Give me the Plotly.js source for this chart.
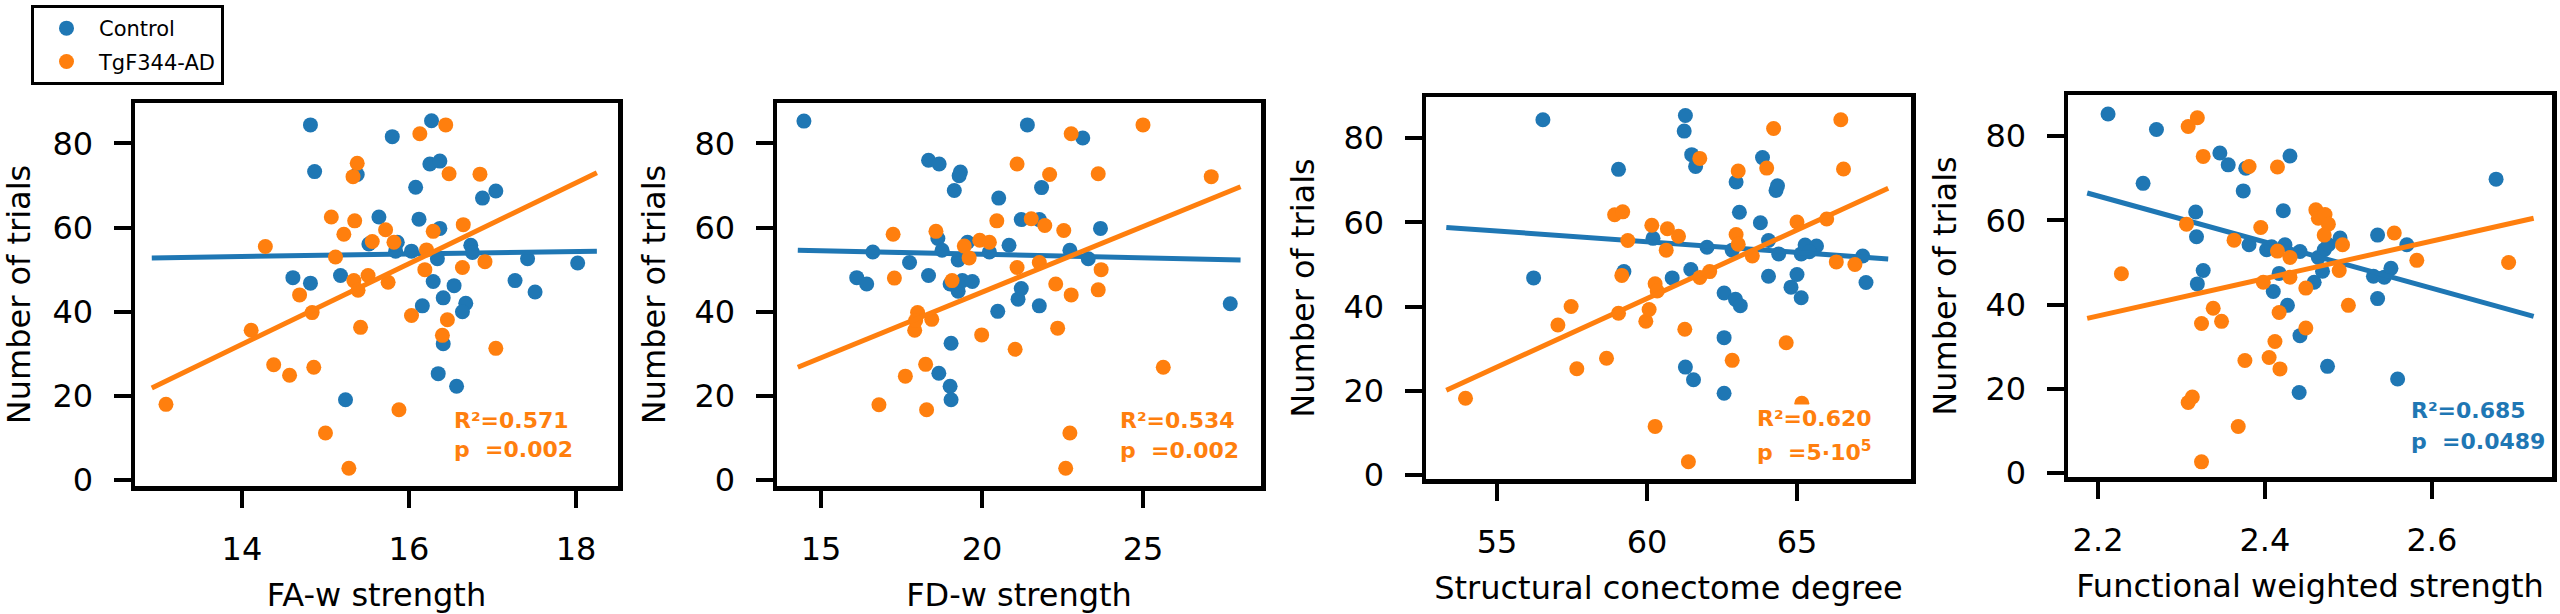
<!DOCTYPE html>
<html>
<head>
<meta charset="utf-8">
<script src="https://cdn.plot.ly/plotly-3.0.1.min.js"></script>
<style>
  html, body { margin: 0; padding: 0; background: #ffffff; }
  #chart { width: 2560px; height: 614px; }
</style>
</head>
<body>
<div id="chart"></div>
<script>
// ---------- DATA ----------
const groupNames = ["Control", "TgF344-AD"];

// Panel 1: FA-w strength
const p1CtrlX = [14.82,14.87,15.80,16.27,16.25,16.37,16.08,16.88,17.04,15.64,16.12,16.37,15.52,15.86,15.84,16.03,16.34,16.74,16.76,14.61,14.82,15.18,16.29,16.54,16.41,16.16,16.68,16.64,16.41,16.35,16.57,15.24,17.27,17.51,17.42,18.02,15.38];
const p1CtrlY = [84.4,73.3,81.6,85.4,75.1,75.8,69.6,67.0,68.7,62.5,62.0,59.8,56.1,56.5,54.4,54.4,52.6,55.8,54.1,48.1,46.8,48.6,47.2,46.2,43.3,41.4,42.0,40.0,32.4,25.3,22.3,19.1,47.4,44.7,52.6,51.6,72.6];
const p1TgX = [13.09,14.11,14.28,14.38,14.57,14.69,14.84,14.86,15.00,15.07,15.22,15.12,15.28,15.35,15.38,15.33,15.34,15.39,15.42,15.51,15.56,15.72,15.75,15.82,15.88,16.03,16.13,16.19,16.21,16.29,16.44,16.48,16.40,16.46,16.64,16.65,16.85,16.91,17.04];
const p1TgY = [18.0,35.6,55.5,27.4,24.9,44.0,39.8,26.8,11.2,62.5,58.4,53.0,2.8,61.6,75.3,72.1,47.4,45.1,36.3,48.6,56.7,59.5,47.0,56.5,16.7,39.1,82.3,50.0,54.7,59.1,84.4,72.8,34.4,38.1,50.5,60.7,72.7,51.9,31.3];
const p1FitX = [12.92, 18.25];
const p1FitCtrlY = [52.8, 54.4];
const p1FitTgY = [21.9, 73.0];

// Panel 2: FD-w strength
const p2CtrlX = [14.47,16.11,16.42,16.61,17.75,18.34,18.67,18.34,18.63,18.76,18.66,19.01,19.04,19.04,19.14,19.29,19.33,19.01,19.26,19.39,19.70,19.55,19.26,20.23,20.49,20.52,20.84,21.12,21.22,21.22,21.41,21.78,21.85,21.78,22.73,23.13,23.30,23.68,27.71];
const p2CtrlY = [85.3,48.1,46.6,54.2,51.7,76.0,75.1,48.6,57.4,54.6,25.4,22.3,19.1,32.5,68.8,72.3,73.2,46.6,44.9,47.4,47.2,56.5,52.3,54.2,40.1,67.0,55.8,43.0,45.5,61.9,84.4,61.9,69.5,41.4,54.6,81.3,52.6,59.8,41.9];
const p2TgX = [16.80,17.24,17.28,17.62,17.91,18.00,17.94,18.25,18.28,18.44,18.57,19.07,19.45,19.60,19.93,19.99,20.23,20.46,21.03,21.09,21.09,21.53,21.78,21.95,22.10,22.29,22.35,22.54,22.60,22.73,22.77,22.77,23.61,23.61,23.70,25.00,25.63,27.12];
const p2TgY = [17.9,58.4,48.0,24.7,35.6,39.8,37.9,27.5,16.7,38.2,59.1,47.4,55.6,52.8,57.0,34.5,56.5,61.6,31.1,75.1,50.5,62.1,51.7,60.5,72.6,46.6,36.1,59.3,2.8,11.2,44.0,82.3,72.8,45.2,50.0,84.4,26.8,72.1];
const p2FitX = [14.28, 28.03];
const p2FitCtrlY = [54.6, 52.3];
const p2FitTgY = [26.8, 69.7];

// Panel 3: Structural conectome degree
const p3CtrlX = [56.53,56.22,59.05,59.23,60.20,60.84,61.28,61.24,61.49,61.62,61.46,61.28,61.55,62.00,62.57,62.57,62.57,62.84,62.97,63.08,62.95,63.11,63.85,63.78,64.05,64.05,64.30,64.35,64.39,64.80,65.00,65.14,65.14,65.27,65.65,67.19,67.30,65.41];
const p3CtrlY = [84.4,46.8,72.6,48.3,56.2,46.8,85.4,81.7,76.1,73.3,48.8,25.6,22.6,54.1,43.2,32.6,19.4,53.4,69.6,62.4,41.7,40.2,75.4,59.9,55.7,47.2,67.6,68.7,52.5,44.6,47.6,42.1,52.5,54.6,54.4,52.0,45.7,53.0];
const p3TgX = [53.95,57.03,57.47,57.66,58.65,58.92,59.19,59.05,59.16,59.36,59.96,60.07,60.16,60.27,60.27,60.34,60.68,60.64,61.05,61.26,61.38,61.76,61.76,62.09,62.84,62.97,63.04,63.04,63.51,63.99,64.22,64.64,65.00,65.16,65.99,66.31,66.46,66.55,66.93];
const p3TgY = [18.2,35.6,40.0,25.2,27.7,61.8,62.5,38.4,47.4,55.7,36.5,39.3,59.3,45.4,11.5,43.7,58.5,53.4,56.7,34.6,3.1,75.2,46.9,48.3,27.2,57.1,72.2,54.8,52.0,72.9,82.3,31.4,60.1,17.0,60.8,50.6,84.4,72.7,50.0];
const p3FitX = [53.31, 68.04];
const p3FitCtrlY = [58.8, 51.3];
const p3FitTgY = [20.1, 68.1];

// Panel 4: Functional weighted strength
const p4CtrlX = [2.212,2.270,2.254,2.317,2.318,2.326,2.319,2.346,2.356,2.377,2.374,2.381,2.402,2.408,2.410,2.417,2.422,2.424,2.427,2.430,2.442,2.442,2.441,2.459,2.464,2.469,2.471,2.476,2.490,2.475,2.535,2.535,2.530,2.543,2.551,2.559,2.570,2.677];
const p4CtrlY = [85.3,81.6,68.8,62.0,56.1,48.1,44.9,76.0,73.2,72.4,67.0,54.2,53.0,53.7,43.1,47.4,62.3,54.2,39.8,75.3,52.6,32.6,19.1,45.3,51.2,47.9,53.0,54.2,55.8,25.3,56.5,41.4,46.7,46.5,48.6,22.3,54.2,69.8];
const p4TgX = [2.228,2.306,2.308,2.319,2.326,2.308,2.313,2.324,2.338,2.348,2.363,2.368,2.376,2.381,2.324,2.395,2.398,2.405,2.412,2.415,2.415,2.417,2.418,2.430,2.430,2.449,2.449,2.461,2.464,2.472,2.476,2.471,2.489,2.493,2.500,2.555,2.582,2.692];
const p4TgY = [47.3,59.1,82.3,84.4,75.2,16.7,18.0,35.5,39.1,36.0,55.3,11.0,26.7,72.8,2.6,58.3,45.3,27.4,31.2,72.7,52.7,38.1,24.7,51.2,46.5,43.9,34.4,62.5,60.5,61.4,59.1,56.5,48.1,54.2,39.8,57.0,50.5,50.0];
const p4FitX = [2.187, 2.722];
const p4FitCtrlY = [66.5, 37.2];
const p4FitTgY = [36.7, 60.5];

// Tick values and labels
const yTickVals = [0, 20, 40, 60, 80];
const yTickText = ["0", "20", "40", "60", "80"];
const p1XTickVals = [14, 16, 18];
const p2XTickVals = [15, 20, 25];
const p3XTickVals = [55, 60, 65];
const p4XTickVals = [2.2, 2.4, 2.6];
const p4XTickText = ["2.2", "2.4", "2.6"];

// Axis titles and statistics labels
const xTitles = ["FA-w strength", "FD-w strength", "Structural conectome degree", "Functional weighted strength"];
const yTitle = "Number of trials";
const statR = ["R²=0.571", "R²=0.534", "R²=0.620", "R²=0.685"];
const statP = ["p\u00a0\u00a0=0.002", "p\u00a0\u00a0=0.002", "p\u00a0\u00a0=5·10<sup>5</sup>", "p\u00a0\u00a0=0.0489"];
const statGroup = [1, 1, 1, 0];

// ---------- STYLE ----------
const W = 2560, H = 614;
const colors = ["#1f77b4", "#ff7f0e"];
const FONT = "DejaVu Sans";

// panel frames in pixels: [left, right, top, bottom]
const frames = [
  [135, 618, 103, 486],
  [777, 1261, 103, 486],
  [1426, 1911, 97, 479],
  [2068, 2552, 95, 477]
];
const xRanges = [[12.719, 18.503], [13.634, 28.665], [52.633, 68.8], [2.164, 2.744]];
const yRanges = [[-1.4, 89.6], [-1.4, 89.6], [-1.0, 89.8], [-1.0, 89.8]];
const statPos = [[452, 420, 449], [1118, 420, 450], [1755, 418, 451], [2409, 410, 441]];
const statBg = ["rgba(0,0,0,0)", "rgba(0,0,0,0)", "#ffffff", "rgba(0,0,0,0)"];

const panels = [
  {cx: p1CtrlX, cy: p1CtrlY, tx: p1TgX, ty: p1TgY, fx: p1FitX, fc: p1FitCtrlY, ft: p1FitTgY, tv: p1XTickVals, tt: p1XTickVals.map(String)},
  {cx: p2CtrlX, cy: p2CtrlY, tx: p2TgX, ty: p2TgY, fx: p2FitX, fc: p2FitCtrlY, ft: p2FitTgY, tv: p2XTickVals, tt: p2XTickVals.map(String)},
  {cx: p3CtrlX, cy: p3CtrlY, tx: p3TgX, ty: p3TgY, fx: p3FitX, fc: p3FitCtrlY, ft: p3FitTgY, tv: p3XTickVals, tt: p3XTickVals.map(String)},
  {cx: p4CtrlX, cy: p4CtrlY, tx: p4TgX, ty: p4TgY, fx: p4FitX, fc: p4FitCtrlY, ft: p4FitTgY, tv: p4XTickVals, tt: p4XTickText}
];

const traces = [];
const layout = {
  width: W, height: H,
  margin: {l: 0, r: 0, t: 0, b: 0, pad: 0},
  paper_bgcolor: "#ffffff",
  plot_bgcolor: "#ffffff",
  font: {family: FONT, color: "#000000", size: 32},
  showlegend: true,
  legend: {
    x: 31 / W, y: 1 - 5 / H, xanchor: "left", yanchor: "top",
    bordercolor: "#000000", borderwidth: 3, bgcolor: "#ffffff",
    font: {family: FONT, size: 21, color: "#000000"},
    itemsizing: "trace", itemwidth: 55, tracegroupgap: 3
  },
  annotations: []
};

panels.forEach((p, i) => {
  const n = i + 1;
  const xa = n === 1 ? "x" : "x" + n;
  const ya = n === 1 ? "y" : "y" + n;
  const f = frames[i];
  const axBase = {
    showline: true, mirror: true, linecolor: "#000000", linewidth: 4.5,
    showgrid: false, zeroline: false,
    ticks: "outside", ticklen: 17, tickwidth: 4, tickcolor: "#000000",
    tickfont: {family: FONT, size: 32, color: "#000000"},
    ticklabelstandoff: 14
  };
  layout["xaxis" + (n === 1 ? "" : n)] = Object.assign({}, axBase, {
    domain: [f[0] / W, f[1] / W],
    range: xRanges[i], anchor: ya,
    tickmode: "array", tickvals: p.tv, ticktext: p.tt,
    title: {text: xTitles[i], font: {family: FONT, size: 32, color: "#000000"}, standoff: 18}
  });
  layout["yaxis" + (n === 1 ? "" : n)] = Object.assign({}, axBase, {
    domain: [1 - f[3] / H, 1 - f[2] / H],
    range: yRanges[i], anchor: xa,
    tickmode: "array", tickvals: yTickVals, ticktext: yTickText,
    title: {text: yTitle, font: {family: FONT, size: 32, color: "#000000"}, standoff: 20}
  });

  // Control scatter + fit, then TgF scatter + fit
  traces.push({
    type: "scatter", mode: "markers", x: p.cx, y: p.cy, xaxis: xa, yaxis: ya,
    name: groupNames[0], legendgroup: "ctrl", showlegend: i === 0,
    marker: {color: colors[0], size: 15, line: {width: 0}}
  });
  traces.push({
    type: "scatter", mode: "lines", x: p.fx, y: p.fc, xaxis: xa, yaxis: ya,
    showlegend: false, hoverinfo: "skip",
    line: {color: colors[0], width: 5}
  });
  traces.push({
    type: "scatter", mode: "markers", x: p.tx, y: p.ty, xaxis: xa, yaxis: ya,
    name: groupNames[1], legendgroup: "tg", showlegend: i === 0,
    marker: {color: colors[1], size: 15, line: {width: 0}}
  });
  traces.push({
    type: "scatter", mode: "lines", x: p.fx, y: p.ft, xaxis: xa, yaxis: ya,
    showlegend: false, hoverinfo: "skip",
    line: {color: colors[1], width: 5}
  });

  const sp = statPos[i];
  const sc = colors[statGroup[i]];
  layout.annotations.push({
    xref: "paper", yref: "paper", x: sp[0] / W, y: 1 - sp[1] / H,
    xanchor: "left", yanchor: "middle", showarrow: false,
    text: statR[i], font: {family: FONT, size: 22, color: sc, weight: "bold"},
    bgcolor: statBg[i], borderpad: 1
  });
  layout.annotations.push({
    xref: "paper", yref: "paper", x: sp[0] / W, y: 1 - sp[2] / H,
    xanchor: "left", yanchor: "middle", showarrow: false,
    text: statP[i], font: {family: FONT, size: 22, color: sc, weight: "bold"}
  });
});

Plotly.newPlot("chart", traces, layout, {staticPlot: true, displayModeBar: false});
</script>
</body>
</html>
